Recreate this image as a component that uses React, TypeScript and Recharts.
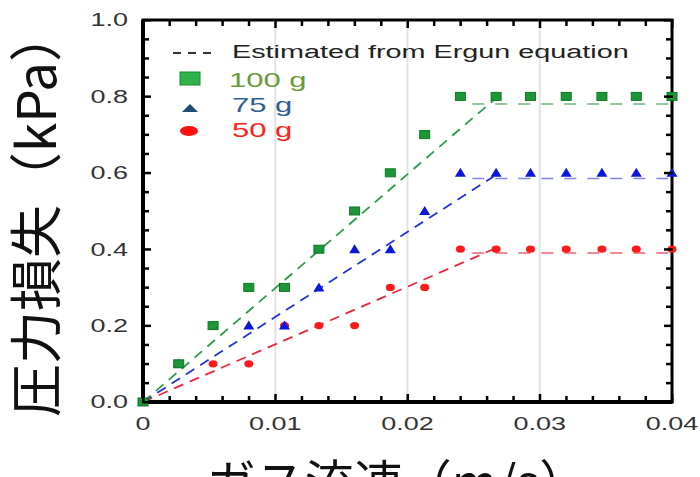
import React from 'react';
import {
  ComposedChart, Scatter, Line, XAxis, YAxis, ReferenceLine, ReferenceArea, Legend,
} from 'recharts';

// ---- data ----
const flowRate = [0, 0.0027, 0.0053, 0.008, 0.0107, 0.0133, 0.016, 0.0187, 0.0213, 0.024, 0.0267, 0.0293, 0.032, 0.0347, 0.0373, 0.04];
const loss100 = [0, 0.1, 0.2, 0.3, 0.3, 0.4, 0.5, 0.6, 0.7, 0.8, 0.8, 0.8, 0.8, 0.8, 0.8, 0.8];
const loss75 = [0, 0.1, 0.2, 0.2, 0.2, 0.3, 0.4, 0.4, 0.5, 0.6, 0.6, 0.6, 0.6, 0.6, 0.6, 0.6];
const loss50 = [0, 0.1, 0.1, 0.1, 0.2, 0.2, 0.2, 0.3, 0.3, 0.4, 0.4, 0.4, 0.4, 0.4, 0.4, 0.4];

const ergunRiseX = [0, 0.0265];
const ergunFlatX = [0.0249, 0.04];
const ergun100Rise = [0, 0.79];
const ergun100Flat = [0.78, 0.78];
const ergun75Rise = [0, 0.59];
const ergun75Flat = [0.585, 0.585];
const ergun50Rise = [0, 0.4];
const ergun50Flat = [0.39, 0.39];

const xTicks = [0, 0.002, 0.004, 0.006, 0.008, 0.01, 0.012, 0.014, 0.016, 0.018, 0.02, 0.022, 0.024, 0.026, 0.028, 0.03, 0.032, 0.034, 0.036, 0.038, 0.04];
const xMajor = [0, 0.01, 0.02, 0.03, 0.04];
const xLabels = ['0', '0.01', '0.02', '0.03', '0.04'];
const yTicks = [0, 0.05, 0.1, 0.15, 0.2, 0.25, 0.3, 0.35, 0.4, 0.45, 0.5, 0.55, 0.6, 0.65, 0.7, 0.75, 0.8, 0.85, 0.9, 0.95, 1.0];
const yMajor = [0, 0.2, 0.4, 0.6, 0.8, 1.0];
const yLabels = ['0.0', '0.2', '0.4', '0.6', '0.8', '1.0'];
const gridX = [0.01, 0.02, 0.03];

const legendEstimate = 'Estimated from Ergun equation';
const legendNames = ['100 g', '75 g', '50 g'];
const xTitle = 'ガス流速（m/s）';
const yTitle = '圧力損失（kPa）';

const pts = (xs: number[], ys: number[]) => xs.map((x, i) => ({ x, y: ys[i] }));

const d100 = pts(flowRate, loss100);
const d75 = pts(flowRate, loss75);
const d50 = pts(flowRate, loss50);

const PLOT_TOP = 20;
const PLOT_RIGHT = 672;

const FONT = '"Liberation Sans", Arial, sans-serif';
const CJK = '"Noto Sans CJK JP", "Noto Sans CJK SC", sans-serif';

const idx = (arr: number[], v: number) => arr.findIndex((a) => Math.abs(a - v) < 1e-9);

const BottomTick = (p: any) => {
  const x = Number(p.x);
  const y = Number(p.y);
  const k = idx(xMajor, p.payload.value);
  const major = k >= 0;
  const len = major ? 8 : 6;
  return (
    <g>
      <rect x={x - 1} y={y - len} width={2.5} height={len + 1} fill="black" />
      <rect x={x - 1} y={PLOT_TOP - 1} width={2.5} height={len + 1} fill="black" />
      {major && (
        <text transform={`translate(${x},${y + 28}) scale(1.5,1)`} textAnchor="middle" fontFamily={FONT} fontSize={18} fill="#333">
          {xLabels[k]}
        </text>
      )}
    </g>
  );
};
const LeftTick = (p: any) => {
  const x = Number(p.x);
  const y = Number(p.y);
  const k = idx(yMajor, p.payload.value);
  const major = k >= 0;
  const len = major ? 8 : 6;
  return (
    <g>
      <rect x={x - 1} y={y - 1} width={len + 1} height={2.5} fill="black" />
      <rect x={PLOT_RIGHT - len} y={y - 1} width={len + 1} height={2.5} fill="black" />
      {major && (
        <text transform={`translate(${x - 15},${y}) scale(1.5,1)`} textAnchor="end" dy="0.36em" fontFamily={FONT} fontSize={18} fill="#333">
          {yLabels[k]}
        </text>
      )}
    </g>
  );
};

const Square = (p: any) => (
  <rect x={p.cx - 5} y={p.cy - 4} width={10} height={8} fill="#1c9636" stroke="#0e7a25" strokeWidth={1} />
);
const Tri = (p: any) => (
  <polygon points={`${p.cx},${p.cy - 5} ${p.cx - 5.5},${p.cy + 4} ${p.cx + 5.5},${p.cy + 4}`} fill="#0a18dc" />
);
const Dot = (p: any) => <ellipse cx={p.cx} cy={p.cy} rx={4.5} ry={3.6} fill="#ff1a1a" />;

const renderLegend = () => (
  <svg width={480} height={120} style={{ display: 'block' }}>
    <line x1={3} x2={47} y1={13} y2={13} stroke="#333" strokeWidth={2} strokeDasharray="8 7" />
    <text transform="translate(62,18) scale(1.6,1)" fontFamily={FONT} fontSize={18} fill="#222">{legendEstimate}</text>
    <rect x={10} y={32} width={20} height={13} fill="#2db34a" stroke="#1b8a33" strokeWidth={1} />
    <text transform="translate(59,47) scale(1.55,1)" fontFamily={FONT} fontSize={20} fill="#6a9a3a">{legendNames[0]}</text>
    <polygon points="20,64 12,72 28,72" fill="#1f4e7a" />
    <text transform="translate(62,72) scale(1.55,1)" fontFamily={FONT} fontSize={20} fill="#2f5f8f">{legendNames[1]}</text>
    <ellipse cx={19} cy={91} rx={9} ry={5} fill="#ff1010" />
    <text transform="translate(62,97) scale(1.55,1)" fontFamily={FONT} fontSize={20} fill="#ff2020">{legendNames[2]}</text>
  </svg>
);

export default function App() {
  return (
    <div style={{ position: 'fixed', left: 0, top: 0, width: 700, height: 477, background: '#fff', overflow: 'hidden' }}>
      <ComposedChart width={700} height={477} margin={{ top: 20, right: 28, bottom: 0, left: 0 }}>
        <XAxis
          xAxisId="bottom" dataKey="x" type="number" domain={[0, 0.04]} ticks={xTicks} interval={0}
          tickSize={0} tickMargin={0} tick={BottomTick} height={75}
          axisLine={{ stroke: 'black', strokeWidth: 4 }}
          label={{
            content: (lp: any) => {
              const vb = lp.viewBox || { x: 0, width: 700, y: 402 };
              return (
                <text x={vb.x + vb.width / 2 - 10} y={vb.y + 99} textAnchor="middle" fontFamily={CJK} fontSize={49} fill="#111">
                  {xTitle}
                </text>
              );
            },
          }}
        />
        <YAxis
          yAxisId="left" type="number" domain={[0, 1]} ticks={yTicks} interval={0}
          tickSize={0} tickMargin={0} tick={LeftTick} width={143}
          axisLine={{ stroke: 'black', strokeWidth: 4 }}
          label={{
            content: (lp: any) => {
              const vb = lp.viewBox || { x: 0, y: 20, height: 382 };
              const cy = vb.y + vb.height / 2 + 2;
              return (
                <text transform={`translate(${vb.x + 56},${cy}) rotate(-90)`} textAnchor="middle" fontFamily={CJK} fontSize={53} fill="#111">
                  {yTitle}
                </text>
              );
            },
          }}
        />
        <ReferenceArea x1={0} x2={0.04} y1={0} y2={1} xAxisId="bottom" yAxisId="left" fill="none" stroke="black" strokeWidth={3} ifOverflow="visible" />
        {gridX.map((g) => (
          <ReferenceLine key={g} x={g} xAxisId="bottom" yAxisId="left" stroke="#e2e2e2" strokeWidth={2} />
        ))}
        <Legend
          content={renderLegend}
          layout="horizontal" verticalAlign="middle" align="center"
          wrapperStyle={{ position: 'absolute', left: 170, top: 40, width: 480, height: 120 }}
        />
        <Line xAxisId="bottom" yAxisId="left" data={pts(ergunRiseX, ergun50Rise)} dataKey="y" stroke="#e8283c" strokeWidth={1.8} strokeDasharray="10 7" dot={false} isAnimationActive={false} legendType="none" />
        <Line xAxisId="bottom" yAxisId="left" data={pts(ergunFlatX, ergun50Flat)} dataKey="y" stroke="#e86472" strokeWidth={1.6} strokeDasharray="12 11" dot={false} isAnimationActive={false} legendType="none" />
        <Line xAxisId="bottom" yAxisId="left" data={pts(ergunRiseX, ergun75Rise)} dataKey="y" stroke="#2233dd" strokeWidth={1.8} strokeDasharray="10 7" dot={false} isAnimationActive={false} legendType="none" />
        <Line xAxisId="bottom" yAxisId="left" data={pts(ergunFlatX, ergun75Flat)} dataKey="y" stroke="#8484e2" strokeWidth={1.6} strokeDasharray="12 11" dot={false} isAnimationActive={false} legendType="none" />
        <Line xAxisId="bottom" yAxisId="left" data={pts(ergunRiseX, ergun100Rise)} dataKey="y" stroke="#2e9a4a" strokeWidth={1.8} strokeDasharray="10 7" dot={false} isAnimationActive={false} legendType="none" />
        <Line xAxisId="bottom" yAxisId="left" data={pts(ergunFlatX, ergun100Flat)} dataKey="y" stroke="#6cb67c" strokeWidth={1.6} strokeDasharray="12 11" dot={false} isAnimationActive={false} legendType="none" />
        <Scatter xAxisId="bottom" yAxisId="left" name={legendNames[2]} data={d50} dataKey="y" shape={Dot} isAnimationActive={false} />
        <Scatter xAxisId="bottom" yAxisId="left" name={legendNames[1]} data={d75} dataKey="y" shape={Tri} isAnimationActive={false} />
        <Scatter xAxisId="bottom" yAxisId="left" name={legendNames[0]} data={d100} dataKey="y" shape={Square} isAnimationActive={false} />
      </ComposedChart>
    </div>
  );
}
